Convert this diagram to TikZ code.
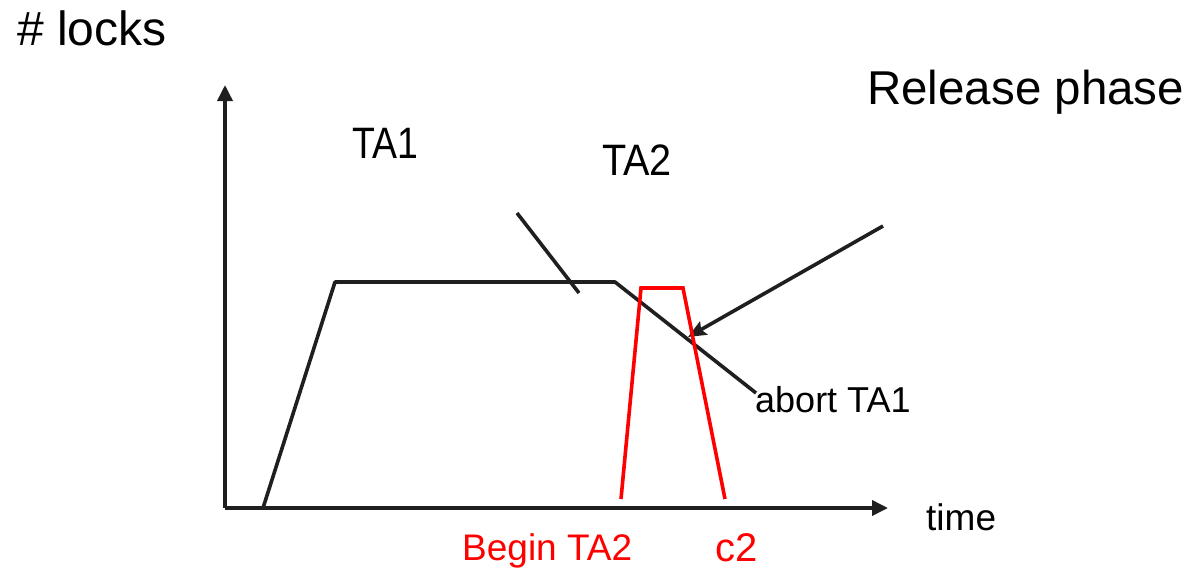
\documentclass[tikz,border=0pt]{standalone}
\usepackage{fontspec}
\setmainfont{Liberation Sans}
\usetikzlibrary{arrows.meta}
\tikzset{
  ln/.style={line width=3.6pt, draw=black!88, line join=round},
  rl/.style={line width=3.6pt, draw=red, line join=miter},
  ax/.style={ln, -{Triangle[length=16pt,width=15pt]}},
  lbl/.style={inner sep=0pt, anchor=base west},
}
\begin{document}
\begin{tikzpicture}[x=1pt,y=-1pt]
\useasboundingbox (0,0) rectangle (1192,571);
% axes
\coordinate (o) at (225,508);
\coordinate (ytop) at (225,85);
\coordinate (xend) at (888,508);
\draw[ax] (o) -- (ytop);
\draw[ax] (o) -- (xend);
% TA1 curve
\coordinate (a0) at (263,508);
\coordinate (a1) at (335,282);
\coordinate (a2) at (615,282);
\coordinate (a3) at (756,393);
\draw[ln] (a0) -- (a1) -- (a2) -- (a3);
% slash line
\coordinate (s0) at (517,213);
\coordinate (s1) at (579,293);
\draw[ln] (s0) -- (s1);
% arrow
\coordinate (r0) at (883,226);
\coordinate (r1) at (688,337);
\draw[ln, -{Stealth[length=18pt,width=15pt,inset=3pt]}] (r0) -- (r1);
% red TA2
\coordinate (b0) at (621,499);
\coordinate (b1) at (641,288);
\coordinate (b2) at (683,288);
\coordinate (b3) at (725,499);
\draw[rl] (b0) -- (b1) -- (b2) -- (b3);
% labels
\node[lbl] (locks) at (17,45) {\fontsize{48}{52}\selectfont \# locks};
\node[lbl] (rel) at (867,104) {\fontsize{47.5}{52}\selectfont Release phase};
\node[lbl] (ta1) at (352,158) {\fontsize{44}{48}\selectfont\scalebox{0.85}[1]{TA1}};
\node[lbl] (ta2) at (602,175) {\fontsize{44}{48}\selectfont\scalebox{0.9}[1]{TA2}};
\node[lbl] (abort) at (755,412) {\fontsize{36}{40}\selectfont abort TA1};
\node[lbl] (time) at (926,530) {\fontsize{37}{40}\selectfont time};
\node[lbl, text=red] (begin) at (462,560) {\fontsize{37}{40}\selectfont Begin TA2};
\node[lbl, text=red, text depth=0pt] (c2) at (715,561) {\fontsize{40}{44}\selectfont c2};
\end{tikzpicture}
\end{document}
